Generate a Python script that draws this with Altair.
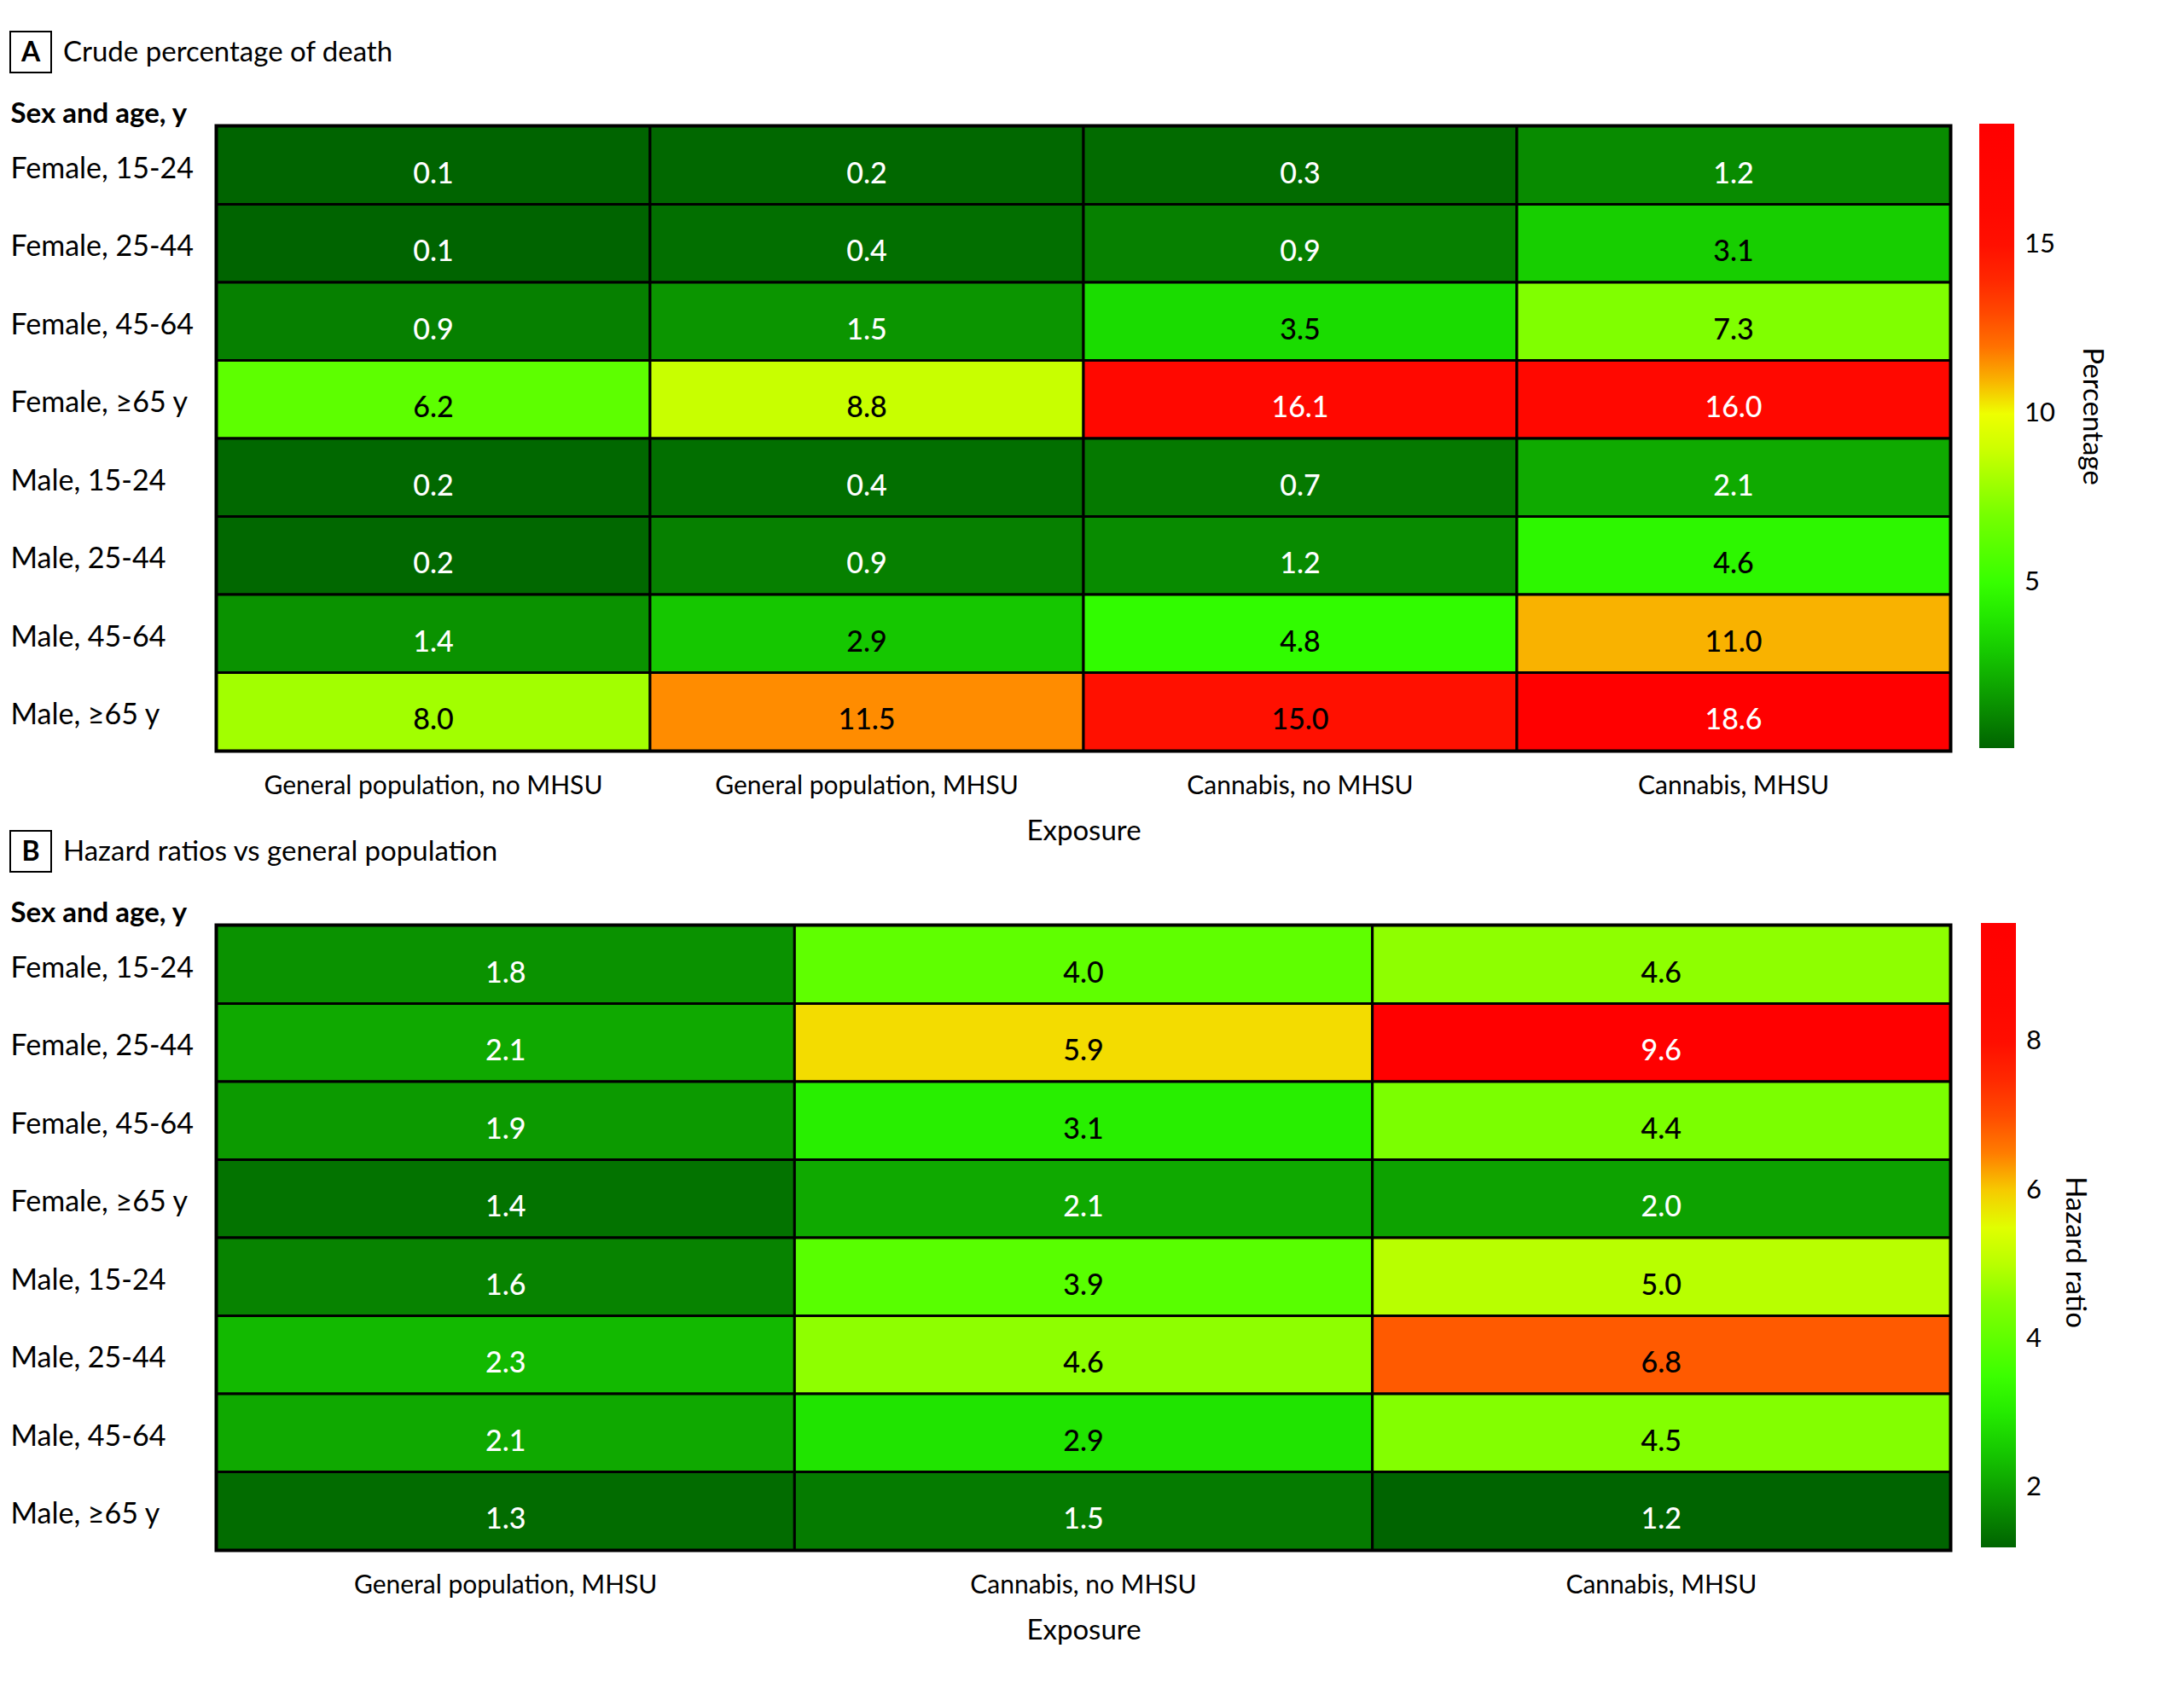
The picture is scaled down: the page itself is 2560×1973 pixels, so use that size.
import altair as alt
import pandas as pd

# ---------------- data ----------------
rows = ["Female, 15-24", "Female, 25-44", "Female, 45-64", "Female, ≥65 y",
        "Male, 15-24", "Male, 25-44", "Male, 45-64", "Male, ≥65 y"]

cols_a = ["General population, no MHSU", "General population, MHSU",
          "Cannabis, no MHSU", "Cannabis, MHSU"]
gen_no = [0.1, 0.1, 0.9, 6.2, 0.2, 0.2, 1.4, 8.0]
gen_mhsu = [0.2, 0.4, 1.5, 8.8, 0.4, 0.9, 2.9, 11.5]
can_no = [0.3, 0.9, 3.5, 16.1, 0.7, 1.2, 4.8, 15.0]
can_mhsu = [1.2, 3.1, 7.3, 16.0, 2.1, 4.6, 11.0, 18.6]

cols_b = ["General population, MHSU", "Cannabis, no MHSU", "Cannabis, MHSU"]
hr_gen_mhsu = [1.8, 2.1, 1.9, 1.4, 1.6, 2.3, 2.1, 1.3]
hr_can_no = [4.0, 5.9, 3.1, 2.1, 3.9, 4.6, 2.9, 1.5]
hr_can_mhsu = [4.6, 9.6, 4.4, 2.0, 5.0, 6.8, 4.5, 1.2]

letters = ["A", "B"]
panel_titles = ["Crude percentage of death", "Hazard ratios vs general population"]
legend_titles = ["Percentage", "Hazard ratio"]
legend_ticks_a = [5, 10, 15]
legend_ticks_b = [2, 4, 6, 8]

FONT = "Lato"
LFONT = "Lato"

# colour ramp (fraction of range, colour)
STOPS = [(0.0, "#006400"), (0.108, "#0faa00"), (0.184, "#1adc00"),
         (0.26, "#33ff00"), (0.389, "#80ff00"), (0.47, "#c8ff00"),
         (0.535, "#eeff00"), (0.616, "#ff8c00"), (0.667, "#ff5a00"),
         (0.75, "#ff2800"), (0.82, "#ff0a00"), (1.0, "#ff0000")]

W, H = 2032, 732
LP = 242  # distance from plot left edge to the left text column


def long(cols, series):
    recs = []
    for c, vals in zip(cols, series):
        for r, v in zip(rows, vals):
            recs.append({"exposure": c, "group": r, "value": v})
    return pd.DataFrame(recs)


def panel(df, cols, letter, ptitle, ltitle, lvalues, white_test, leg_x, leg_y,
          lt_x, lt_y):
    lo, hi = df["value"].min(), df["value"].max()
    cscale = alt.Scale(domain=[lo + t * (hi - lo) for t, _ in STOPS],
                       range=[c for _, c in STOPS], interpolate="rgb")
    x = alt.X("exposure:N", sort=cols,
              scale=alt.Scale(paddingInner=0, paddingOuter=0),
              axis=alt.Axis(title="Exposure", labelAngle=0, ticks=False, tickSize=0,
                            domain=False, labelFont=FONT, labelFontSize=30,
                            labelColor="black", labelPadding=26, labelLimit=0,
                            titleFont=FONT, titleFontSize=33, titleFontWeight="normal",
                            titleColor="black", titleBaseline="middle", titleY=94))
    y = alt.Y("group:N", sort=rows,
              scale=alt.Scale(paddingInner=0, paddingOuter=0),
              axis=alt.Axis(title="Sex and age, y", ticks=False, tickSize=0, domain=False,
                            labelAlign="left", labelPadding=LP, labelFont=FONT,
                            labelFontSize=34, labelColor="black", labelLimit=0,
                            labelOffset=5,
                            titleAngle=0, titleAlign="left", titleBaseline="alphabetic",
                            titleX=-LP, titleY=-5, titleFont=FONT, titleFontSize=33,
                            titleFontWeight="bold", titleColor="black"))
    base = alt.Chart(df).encode(x=x, y=y)
    rect = base.mark_rect(stroke="black", strokeWidth=3).encode(
        color=alt.Color("value:Q", scale=cscale,
                        legend=alt.Legend(orient="none", legendX=leg_x, legendY=leg_y,
                                          direction="vertical", gradientLength=H,
                                          gradientThickness=41, gradientStrokeWidth=0,
                                          values=lvalues, format="d", labelFont=LFONT,
                                          labelFontSize=31, labelColor="black",
                                          labelOffset=12, labelOverlap=False,
                                          title=None))
    )
    text = base.mark_text(font=FONT, fontSize=34, fontWeight=500, baseline="middle",
                          dy=11).encode(
        text=alt.Text("value:Q", format=".1f"),
        color=alt.value("black", condition={"test": white_test, "value": "white"}),
    )
    head = pd.DataFrame({"letter": [letter], "title": [ptitle], "ltitle": [ltitle]})
    box = alt.Chart(head).mark_rect(fill="white", stroke="black", strokeWidth=2).encode(
        x=alt.value(-LP), x2=alt.value(-LP + 48), y=alt.value(-111), y2=alt.value(-63))
    ltxt = alt.Chart(head).mark_text(font=FONT, fontSize=32, fontWeight="bold",
                                     align="center", baseline="middle", color="black").encode(
        x=alt.value(-LP + 24), y=alt.value(-86), text="letter:N")
    ttxt = alt.Chart(head).mark_text(font=FONT, fontSize=33, align="left",
                                     baseline="middle", color="black").encode(
        x=alt.value(-LP + 62), y=alt.value(-86), text="title:N")
    legt = alt.Chart(head).mark_text(font=FONT, fontSize=33, align="center",
                                     baseline="middle", angle=90, color="black").encode(
        x=alt.value(lt_x), y=alt.value(lt_y), text="ltitle:N")
    return alt.layer(rect, text, box, ltxt, ttxt, legt).properties(width=W, height=H)


df_a = long(cols_a, [gen_no, gen_mhsu, can_no, can_mhsu])
df_b = long(cols_b, [hr_gen_mhsu, hr_can_no, hr_can_mhsu])

pa = panel(df_a, cols_a, letters[0], panel_titles[0], legend_titles[0], legend_ticks_a,
           "datum.value < 2.7 || datum.value > 15.5", 2066, -3, 2198, 340)
pb = panel(df_b, cols_b, letters[1], panel_titles[1], legend_titles[1], legend_ticks_b,
           "datum.value < 2.6 || datum.value > 8.5", 2068, -3, 2178, 383)

chart = alt.vconcat(pa, pb, spacing=205, bounds="flush").resolve_scale(
    color="independent").properties(
    padding={"top": 25, "left": 0, "right": 10, "bottom": 10},
    background="white",
).configure_view(stroke="black", strokeWidth=5)

chart.save("out.html", embed_options={"renderer": "svg", "actions": False})
